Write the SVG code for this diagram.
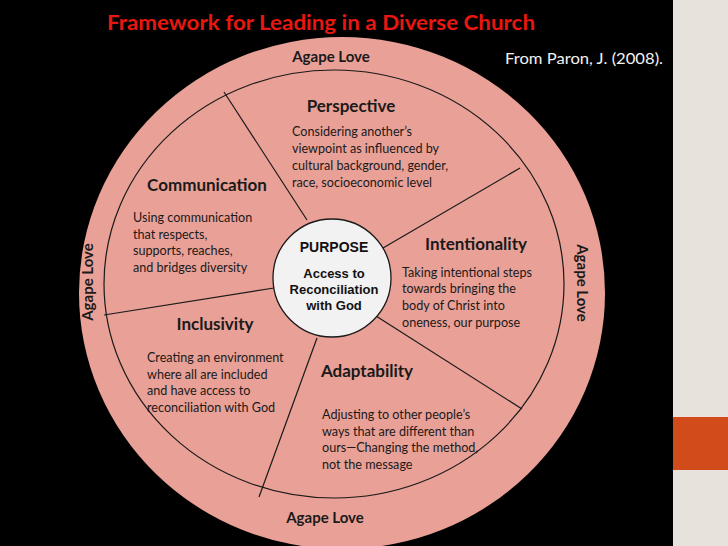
<svg xmlns="http://www.w3.org/2000/svg" width="728" height="546" viewBox="0 0 728 546">
<style>
.h{font-family:Lato,"Liberation Sans",sans-serif;font-weight:bold;font-size:17px;fill:#1a1a1a;text-anchor:middle}
.b{font-family:Lato,"Liberation Sans",sans-serif;font-size:12.6px;fill:#1a1a1a}
.ag{font-family:Lato,"Liberation Sans",sans-serif;font-weight:bold;font-size:15px;fill:#1a1a1a;text-anchor:middle}
.c{font-family:"Liberation Sans",Arial,sans-serif;font-weight:bold;fill:#111;text-anchor:middle}
.ln{stroke:#1a1a1a;stroke-width:1.2;fill:none}
</style>
<rect x="0" y="0" width="728" height="546" fill="#000"/>
<rect x="673" y="0" width="55" height="546" fill="#e7e3dc"/>
<rect x="673" y="417" width="55" height="53" fill="#d24b1a"/>
<text x="321" y="30" font-family="Lato,'Liberation Sans',sans-serif" font-weight="bold" font-size="21" fill="#e8170f" text-anchor="middle" textLength="428" lengthAdjust="spacingAndGlyphs">Framework for Leading in a Diverse Church</text>
<text x="505" y="64" font-family="Lato,'Liberation Sans',sans-serif" font-size="15" fill="#f2f2f2" textLength="158" lengthAdjust="spacingAndGlyphs">From Paron, J. (2008).</text>
<g id="outer-ring">
<ellipse cx="342" cy="293" rx="263" ry="256" fill="#e9a096"/>
<ellipse cx="334" cy="284" rx="230" ry="214" class="ln"/>
<text class="ag" x="331" y="62">Agape Love</text>
<text class="ag" x="325" y="523">Agape Love</text>
<text class="ag" transform="translate(93,282) rotate(-90)">Agape Love</text>
<text class="ag" transform="translate(577,283) rotate(90)">Agape Love</text>
</g>
<g id="connectors">
<line class="ln" x1="307" y1="220" x2="224" y2="92"/>
<line class="ln" x1="383" y1="248" x2="520" y2="168"/>
<line class="ln" x1="376" y1="316" x2="522" y2="409"/>
<line class="ln" x1="317" y1="338" x2="259" y2="497"/>
<line class="ln" x1="274" y1="288" x2="104" y2="315"/>
</g>
<g id="perspective">
<text class="h" x="351" y="112">Perspective</text>
<text class="b"><tspan x="292" y="136">Considering another’s</tspan><tspan x="292" y="153">viewpoint as influenced by</tspan><tspan x="292" y="170">cultural background, gender,</tspan><tspan x="292" y="187">race, socioeconomic level</tspan></text>
</g>
<g id="communication">
<text class="h" x="207" y="191">Communication</text>
<text class="b"><tspan x="133" y="222">Using communication</tspan><tspan x="133" y="239">that respects,</tspan><tspan x="133" y="255">supports, reaches,</tspan><tspan x="133" y="272">and bridges diversity</tspan></text>
</g>
<g id="intentionality">
<text class="h" x="476" y="250">Intentionality</text>
<text class="b"><tspan x="402" y="277">Taking intentional steps</tspan><tspan x="402" y="293">towards bringing the</tspan><tspan x="402" y="310">body of Christ into</tspan><tspan x="402" y="327">oneness, our purpose</tspan></text>
</g>
<g id="inclusivity">
<text class="h" x="215" y="330">Inclusivity</text>
<text class="b"><tspan x="147" y="362">Creating an environment</tspan><tspan x="147" y="379">where all are included</tspan><tspan x="147" y="395">and have access to</tspan><tspan x="147" y="412">reconciliation with God</tspan></text>
</g>
<g id="adaptability">
<text class="h" x="367" y="377">Adaptability</text>
<text class="b"><tspan x="322" y="419">Adjusting to other people’s</tspan><tspan x="322" y="436">ways that are different than</tspan><tspan x="322" y="452">ours—Changing the method,</tspan><tspan x="322" y="469">not the message</tspan></text>
</g>
<g id="purpose">
<circle cx="332" cy="278" r="59" fill="#f2f2f2" stroke="#1a1a1a" stroke-width="1.3"/>
<text class="c" x="334" y="252" font-size="14">PURPOSE</text>
<text class="c" x="334" y="278" font-size="13">Access to</text>
<text class="c" x="334" y="294" font-size="13">Reconciliation</text>
<text class="c" x="334" y="310" font-size="13">with God</text>
</g>
</svg>
